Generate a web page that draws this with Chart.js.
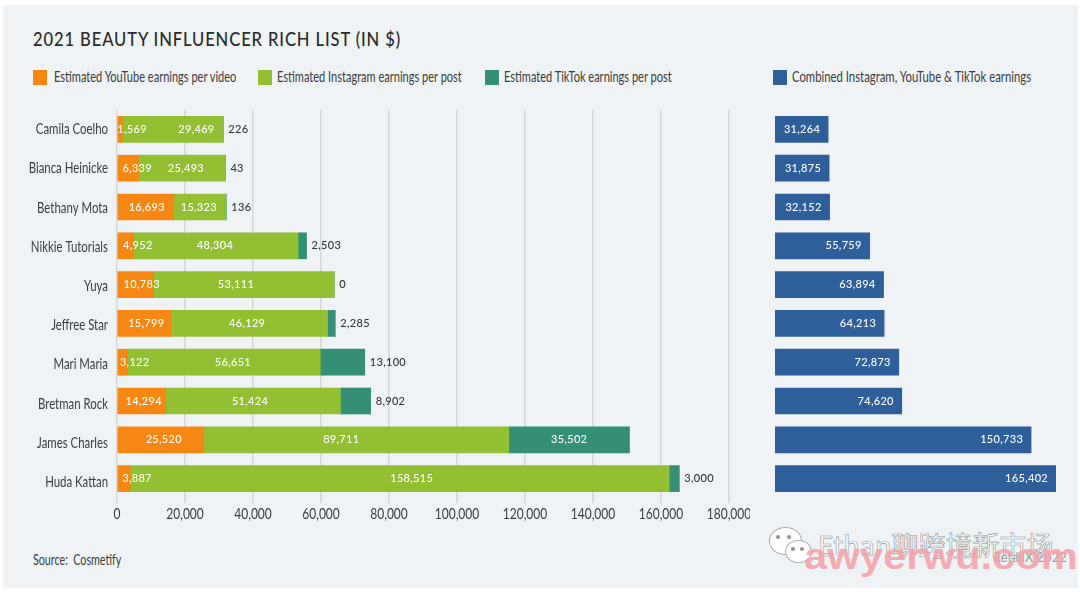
<!DOCTYPE html>
<html>
<head>
<meta charset="utf-8">
<script src="https://cdn.jsdelivr.net/npm/chart.js@4/dist/chart.umd.min.js"></script>
<style>
  html, body { margin: 0; padding: 0; background: #fff; }
  #page { position: relative; width: 1080px; height: 594px; overflow: hidden; }
  #panel { position: absolute; left: 3px; top: 5px; width: 1075px; height: 583px; background: #eff3f6; }
  .txt { position: absolute; white-space: nowrap; color: #3c3c3c; font-family: Lato, sans-serif; transform-origin: left center; }
  #title { left: 33px; top: 26px; font-size: 20px; line-height: 24px; font-weight: 500; letter-spacing: 1.05px; color: #2b2b2b; transform: scaleX(0.83); }
  .swatch { position: absolute; top: 70px; width: 14px; height: 15px; }
  .legend { top: 68px; font-size: 15px; line-height: 17px; transform: scaleX(0.735); }
  #source { left: 33px; top: 550px; font-size: 15.5px; line-height: 18px; transform: scaleX(0.69); }
  canvas { position: absolute; }
  #leftWrap { position: absolute; left: 0; top: 100px; width: 750px; height: 440px; }
  #rightWrap { position: absolute; left: 750px; top: 100px; width: 330px; height: 410px; }
  #retailx { left: 993px; top: 549px; font-size: 13px; color: #9a9a9a; }
  #mark1 { left: 818px; top: 527px; font-family: "Noto Sans CJK SC", sans-serif; font-size: 27px; line-height: 36px; color: #fff; -webkit-text-stroke: 0.6px #8d9499; }
  #mark2 { left: 804px; top: 536px; font-family: "Liberation Sans", sans-serif; font-weight: bold; font-size: 36px; line-height: 42px; color: rgba(246, 160, 168, 0.85); transform: scaleX(1.16); }
  .bub { position: absolute; background: #fff; border-radius: 50%; border: 1px solid #aab0b5; }
  .dot { position: absolute; background: #8d9499; border-radius: 50%; width: 4px; height: 4px; }
</style>
</head>
<body>
<div id="page">
  <div id="panel"></div>
  <div class="txt" id="title">2021 BEAUTY INFLUENCER RICH LIST (IN $)</div>

  <div class="swatch" style="left:33px;background:#f68712"></div>
  <div class="txt legend" style="left:54px">Estimated YouTube earnings per video</div>
  <div class="swatch" style="left:258px;background:#92c032"></div>
  <div class="txt legend" style="left:277px">Estimated Instagram earnings per post</div>
  <div class="swatch" style="left:485px;background:#358f77"></div>
  <div class="txt legend" style="left:504px">Estimated TikTok earnings per post</div>
  <div class="swatch" style="left:773px;background:#2f5f9b"></div>
  <div class="txt legend" style="left:792px;transform:scaleX(0.755)">Combined Instagram, YouTube &amp; TikTok earnings</div>

  <div id="leftWrap"><canvas id="leftChart" width="750" height="440"></canvas></div>
  <div id="rightWrap"><canvas id="rightChart" width="330" height="410"></canvas></div>

  <div class="txt" id="source">Source:&nbsp; Cosmetify</div>
  <div class="txt" id="retailx">RetailX 2022</div>
  <div class="bub" style="left:769px;top:527px;width:31px;height:26px"></div>
  <div class="dot" style="left:776px;top:535px"></div>
  <div class="dot" style="left:787px;top:535px"></div>
  <div class="bub" style="left:785px;top:540px;width:25px;height:21px"></div>
  <div class="dot" style="left:791px;top:547px"></div>
  <div class="dot" style="left:800px;top:547px"></div>
  <div class="txt" id="mark1">Ethan聊跨境新市场</div>
  <div class="txt" id="mark2">awyerwu.com</div>
</div>

<script>
const influencers = ["Camila Coelho", "Bianca Heinicke", "Bethany Mota", "Nikkie Tutorials", "Yuya", "Jeffree Star", "Mari Maria", "Bretman Rock", "James Charles", "Huda Kattan"];
const youtubeEarnings = [1569, 6339, 16693, 4952, 10783, 15799, 3122, 14294, 25520, 3887];
const instagramEarnings = [29469, 25493, 15323, 48304, 53111, 46129, 56651, 51424, 89711, 158515];
const tiktokEarnings = [226, 43, 136, 2503, 0, 2285, 13100, 8902, 35502, 3000];
const combinedEarnings = [31264, 31875, 32152, 55759, 63894, 64213, 72873, 74620, 150733, 165402];
const xTicks = [0, 20000, 40000, 60000, 80000, 100000, 120000, 140000, 160000, 180000];

const numFont = '500 11px Lato, sans-serif';

function fmt(v) {
  return v.toLocaleString("en-US");
}

// the original labels sit a bit off centre, these are small pixel nudges
const youtubeNudge = [12, 9, 1, 12, 6, 2, 12, 2, 3, 13];
const instagramNudge = [24, 4, -1, -1, -8, -2, 9, -3, -15, 12];

function drawLabel(ctx, text, x, y, color, align) {
  ctx.save();
  ctx.font = numFont;
  ctx.letterSpacing = "0.3px";
  ctx.fillStyle = color;
  ctx.textAlign = align;
  ctx.textBaseline = "middle";
  ctx.fillText(text, x, y);
  ctx.restore();
}

// no condensed font is installed, so axis text is squeezed by hand
function drawNarrow(ctx, text, x, y, squeeze, align, size) {
  ctx.save();
  ctx.translate(x, y);
  ctx.scale(squeeze, 1);
  ctx.font = size + "px Lato, sans-serif";
  ctx.fillStyle = "#3c3c3c";
  ctx.textAlign = align;
  ctx.textBaseline = "middle";
  ctx.fillText(text, 0, 0);
  ctx.restore();
}

const axisText = {
  id: "axisText",
  afterDraw(chart) {
    const xs = chart.scales.x;
    const ys = chart.scales.y;
    xTicks.forEach(v => {
      drawNarrow(chart.ctx, fmt(v), xs.getPixelForValue(v), ys.bottom + 16, 0.8, "center", 15);
    });
    // names drift slightly below their bars going down, same as the original
    influencers.forEach((name, i) => {
      drawNarrow(chart.ctx, name, xs.left - 9, ys.getPixelForTick(i) + i * 0.4, 0.76, "right", 15);
    });
  }
};

const stackLabels = {
  id: "stackLabels",
  afterDatasetsDraw(chart) {
    const ctx = chart.ctx;
    const yt = chart.getDatasetMeta(0).data;
    const ig = chart.getDatasetMeta(1).data;
    const tt = chart.getDatasetMeta(2).data;
    influencers.forEach((name, i) => {
      const y = yt[i].y;
      drawLabel(ctx, fmt(youtubeEarnings[i]), (yt[i].x + yt[i].base) / 2 + youtubeNudge[i], y, "#fff", "center");
      drawLabel(ctx, fmt(instagramEarnings[i]), (ig[i].x + ig[i].base) / 2 + instagramNudge[i], y, "#fff", "center");
      // only the James Charles TikTok part is wide enough for an inside label
      if (tiktokEarnings[i] > 20000) {
        drawLabel(ctx, fmt(tiktokEarnings[i]), (tt[i].x + tt[i].base) / 2, y, "#fff", "center");
      } else {
        drawLabel(ctx, fmt(tiktokEarnings[i]), tt[i].x + 5, y, "#333", "left");
      }
    });
  }
};

const totalLabels = {
  id: "totalLabels",
  afterDatasetsDraw(chart) {
    const bars = chart.getDatasetMeta(0).data;
    bars.forEach((bar, i) => {
      drawLabel(chart.ctx, fmt(combinedEarnings[i]), bar.x - 8, bar.y, "#fff", "right");
    });
  }
};

new Chart(document.getElementById("leftChart"), {
  type: "bar",
  data: {
    labels: influencers,
    datasets: [
      { label: "Estimated YouTube earnings per video", data: youtubeEarnings, backgroundColor: "#f68712" },
      { label: "Estimated Instagram earnings per post", data: instagramEarnings, backgroundColor: "#92c032" },
      { label: "Estimated TikTok earnings per post", data: tiktokEarnings, backgroundColor: "#358f77" }
    ]
  },
  options: {
    indexAxis: "y",
    responsive: false,
    animation: false,
    barThickness: 26,
    layout: { padding: { top: 10, right: 21, bottom: 0, left: 0 } },
    plugins: { legend: { display: false }, tooltip: { enabled: false } },
    scales: {
      x: {
        stacked: true,
        min: 0,
        max: 180000,
        afterBuildTicks(scale) { scale.ticks = xTicks.map(v => ({ value: v })); },
        afterFit(scale) { scale.height = 42; },
        border: { display: false },
        grid: { color: "#d6d9da", lineWidth: 1.6, tickLength: 5, drawTicks: true },
        ticks: { display: false }
      },
      y: {
        stacked: true,
        afterFit(scale) { scale.width = 117; },
        border: { display: false },
        grid: { display: false },
        ticks: { display: false }
      }
    }
  },
  plugins: [stackLabels, axisText]
});

new Chart(document.getElementById("rightChart"), {
  type: "bar",
  data: {
    labels: influencers,
    datasets: [
      { label: "Combined Instagram, YouTube & TikTok earnings", data: combinedEarnings, backgroundColor: "#2f5f9b" }
    ]
  },
  options: {
    indexAxis: "y",
    responsive: false,
    animation: false,
    barThickness: 26,
    layout: { padding: { top: 10, right: 24, bottom: 12, left: 25 } },
    plugins: { legend: { display: false }, tooltip: { enabled: false } },
    scales: {
      x: { display: false, min: 0, max: 165402 },
      y: { display: false }
    }
  },
  plugins: [totalLabels]
});
</script>
</body>
</html>
